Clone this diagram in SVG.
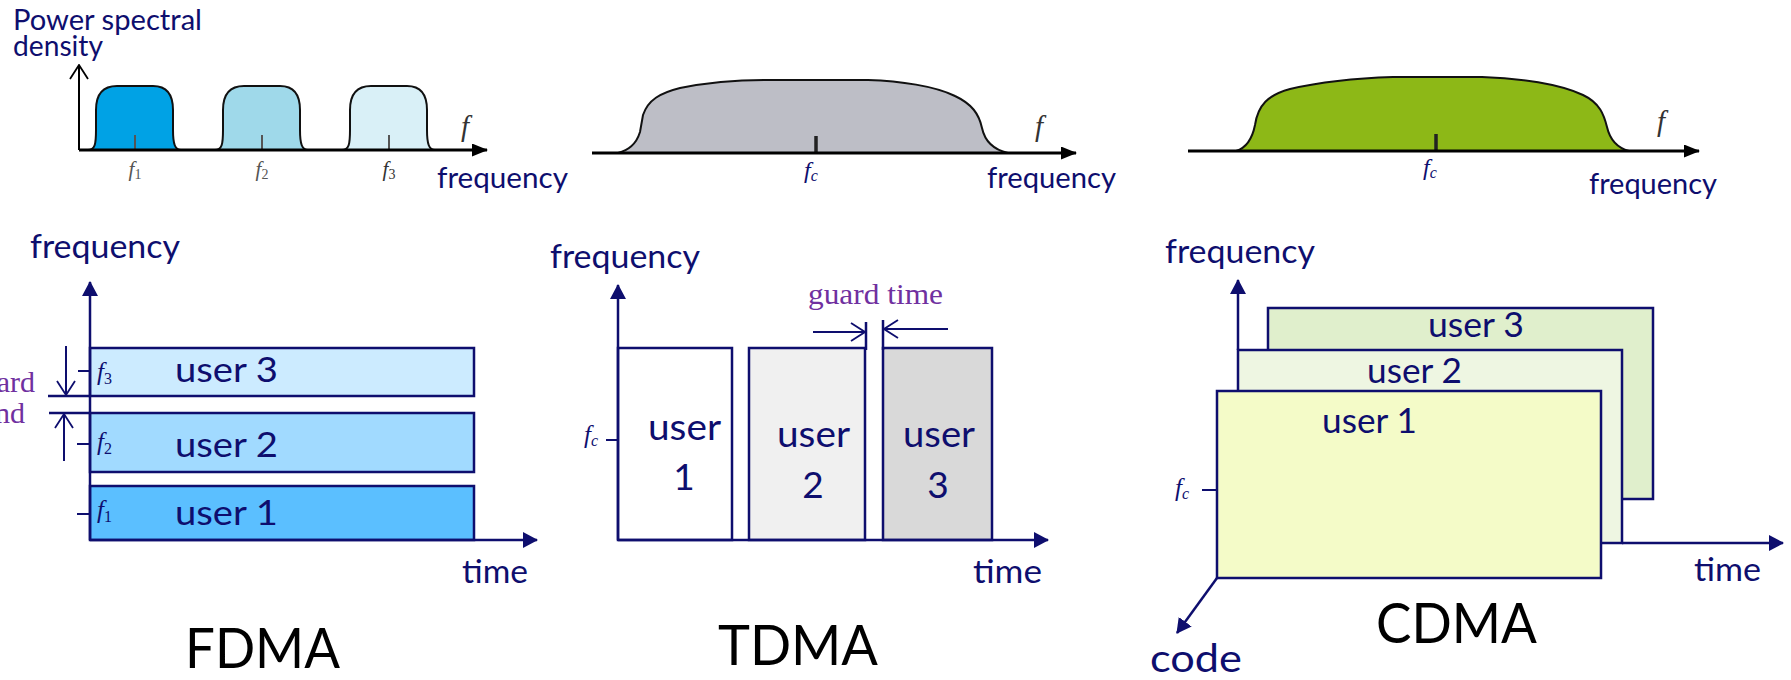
<svg xmlns="http://www.w3.org/2000/svg" width="1791" height="680" viewBox="0 0 1791 680">
<style>
.t{font-family:Lato,'Liberation Sans',sans-serif;fill:#0E0E6E}
.ttl{font-family:Lato,'Liberation Sans',sans-serif;fill:#000}
.it{font-family:'Liberation Serif','Times New Roman',serif;font-style:italic}
.pur{font-family:'Liberation Serif','Times New Roman',serif;fill:#7030A0}
.ax{stroke:#0E0E6E;stroke-width:2.5;fill:none}
.bx{stroke:#0E0E6E;stroke-width:2.5}
.kax{stroke:#000;stroke-width:3;fill:none}
.hump{stroke:#111;stroke-width:2}
.tk{stroke:#0E0E6E;stroke-width:2}
.gtk{stroke:#555;stroke-width:2}
</style>
<defs>
<marker id="ah" viewBox="0 0 15 16" refX="14" refY="8" markerWidth="15" markerHeight="16" markerUnits="userSpaceOnUse" orient="auto"><path d="M0,0 L15,8 L0,16 Z" fill="#0E0E6E"/></marker>
<marker id="kah" viewBox="0 0 16 13" refX="15" refY="6.5" markerWidth="16" markerHeight="13" markerUnits="userSpaceOnUse" orient="auto"><path d="M0,0 L16,6.5 L0,13 Z" fill="#000"/></marker>
<marker id="oah" viewBox="0 0 16 20" refX="15" refY="10" markerWidth="16" markerHeight="20" markerUnits="userSpaceOnUse" orient="auto"><path d="M1,1 L15,10 L1,19" fill="none" stroke="#0E0E6E" stroke-width="1.8"/></marker>
<marker id="okah" viewBox="0 0 16 20" refX="15" refY="10" markerWidth="16" markerHeight="20" markerUnits="userSpaceOnUse" orient="auto"><path d="M1,1 L15,10 L1,19" fill="none" stroke="#000" stroke-width="1.8"/></marker>
<path id="lobe" d="M -47,0 C -40,0 -39,-6 -39,-20 L -39,-40 C -39,-58 -30,-64 -18,-64 L 18,-64 C 30,-64 38,-58 38,-40 L 38,-20 C 38,-6 40,0 46,0 Z"/>
</defs>

<!-- TOP ROW: power spectral densities -->
<g id="fdma-psd">
  <text class="t" x="13" y="30" font-size="29" textLength="189" lengthAdjust="spacingAndGlyphs">Power spectral</text>
  <text class="t" x="13" y="56" font-size="29" textLength="90" lengthAdjust="spacingAndGlyphs">density</text>
  <use href="#lobe" x="135" y="150" fill="#00A2E5" class="hump"/>
  <use href="#lobe" x="262" y="150" fill="#9FD9EA" class="hump"/>
  <use href="#lobe" x="389" y="150" fill="#D9F0F7" class="hump"/>
  <line class="gtk" x1="135" y1="135" x2="135" y2="150"/>
  <line class="gtk" x1="262" y1="135" x2="262" y2="150"/>
  <line class="gtk" x1="389" y1="135" x2="389" y2="150"/>
  <text class="it" x="135" y="176" font-size="21" fill="#555" text-anchor="middle">f<tspan font-size="14" dy="3" font-style="normal">1</tspan></text>
  <text class="it" x="262" y="176" font-size="21" fill="#555" text-anchor="middle">f<tspan font-size="14" dy="3" font-style="normal">2</tspan></text>
  <text class="it" x="389" y="176" font-size="21" fill="#333" text-anchor="middle">f<tspan font-size="14" dy="3" font-style="normal">3</tspan></text>
  <text class="it" x="461" y="136" font-size="29" fill="#333">f</text>
  <text class="t" x="437" y="188" font-size="29" textLength="131" lengthAdjust="spacingAndGlyphs">frequency</text>
</g>

<g id="tdma-psd">
  <path class="hump" fill="#BDBEC6" d="M 618,153 C 628,150 636,145 640,132 L 643,115 C 648,100 660,93 680,88 C 710,82 740,80 765,80 L 868,80 C 900,81 935,86 955,96 C 972,104 979,114 982,128 C 985,142 995,150 1008,153 Z"/>
  <line x1="816" y1="136" x2="816" y2="153" stroke="#222" stroke-width="3.5"/>
  <text class="it" x="804" y="178" font-size="24" fill="#0E0E6E">f<tspan font-size="16" dy="3">c</tspan></text>
  <text class="it" x="1035" y="136" font-size="29" fill="#333">f</text>
  <text class="t" x="987" y="188" font-size="29" textLength="129" lengthAdjust="spacingAndGlyphs">frequency</text>
</g>

<g id="cdma-psd">
  <path class="hump" fill="#8DB817" d="M 1236,151 C 1246,148 1252,140 1255,125 C 1258,105 1268,95 1290,89 C 1320,82 1360,78 1393,77 L 1482,77 C 1520,78 1560,84 1583,95 C 1600,103 1604,115 1607,127 C 1610,140 1618,148 1629,151 Z"/>
  <line x1="1436" y1="134" x2="1436" y2="151" stroke="#222" stroke-width="3.5"/>
  <text class="it" x="1423" y="175" font-size="24" fill="#0E0E6E">f<tspan font-size="16" dy="3">c</tspan></text>
  <text class="it" x="1657" y="131" font-size="29" fill="#333">f</text>
  <text class="t" x="1589" y="194" font-size="29" textLength="128" lengthAdjust="spacingAndGlyphs">frequency</text>
</g>

<!-- FDMA -->
<g id="fdma">
  <text class="t" x="30" y="258" font-size="33" textLength="150" lengthAdjust="spacingAndGlyphs">frequency</text>
  <rect id="fdma-user3" class="bx" x="90" y="348" width="384" height="48" fill="#CCEBFF"/>
  <rect id="fdma-user2" class="bx" x="90" y="413" width="384" height="59" fill="#A1DAFF"/>
  <rect id="fdma-user1" class="bx" x="90" y="486" width="384" height="54" fill="#5BBFFF"/>
  <text class="t" x="175" y="382" font-size="35" textLength="103" lengthAdjust="spacingAndGlyphs">user 3</text>
  <text class="t" x="175" y="457" font-size="35" textLength="103" lengthAdjust="spacingAndGlyphs">user 2</text>
  <text class="t" x="175" y="525" font-size="35" textLength="103" lengthAdjust="spacingAndGlyphs">user 1</text>
  <text class="it" x="97" y="380" font-size="25" fill="#0E0E6E">f<tspan font-size="16" dy="4" font-style="normal">3</tspan></text>
  <text class="it" x="97" y="450" font-size="25" fill="#0E0E6E">f<tspan font-size="16" dy="4" font-style="normal">2</tspan></text>
  <text class="it" x="97" y="518" font-size="25" fill="#0E0E6E">f<tspan font-size="16" dy="4" font-style="normal">1</tspan></text>
  <line class="tk" x1="78" y1="371" x2="90" y2="371"/>
  <line class="tk" x1="77" y1="444" x2="90" y2="444"/>
  <line class="tk" x1="77" y1="514" x2="90" y2="514"/>
  <text class="pur" x="35" y="392" font-size="30" text-anchor="end">ard</text>
  <text class="pur" x="25" y="423" font-size="30" text-anchor="end">nd</text>
  <text class="t" x="462" y="583" font-size="33" textLength="66" lengthAdjust="spacingAndGlyphs">time</text>
  <text class="ttl" x="185" y="668" font-size="56" textLength="155" lengthAdjust="spacingAndGlyphs">FDMA</text>
</g>

<!-- TDMA -->
<g id="tdma">
  <text class="t" x="550" y="268" font-size="33" textLength="150" lengthAdjust="spacingAndGlyphs">frequency</text>
  <rect id="tdma-user1" class="bx" x="618" y="348" width="114" height="192" fill="#FFFFFF"/>
  <rect id="tdma-user2" class="bx" x="749" y="348" width="116" height="192" fill="#F0F0F0"/>
  <rect id="tdma-user3" class="bx" x="883" y="348" width="109" height="192" fill="#D9D9D9"/>
  <text class="t" x="648" y="440" font-size="37" textLength="73" lengthAdjust="spacingAndGlyphs">user</text>
  <text class="t" x="684" y="490" font-size="37" text-anchor="middle">1</text>
  <text class="t" x="777" y="447" font-size="37" textLength="73" lengthAdjust="spacingAndGlyphs">user</text>
  <text class="t" x="813" y="498" font-size="37" text-anchor="middle">2</text>
  <text class="t" x="903" y="447" font-size="37" textLength="72" lengthAdjust="spacingAndGlyphs">user</text>
  <text class="t" x="938" y="498" font-size="37" text-anchor="middle">3</text>
  <text class="it" x="584" y="443" font-size="25" fill="#0E0E6E">f<tspan font-size="16" dy="3">c</tspan></text>
  <line class="tk" x1="606" y1="440" x2="618" y2="440"/>
  <text class="pur" x="808" y="304" font-size="30" textLength="135" lengthAdjust="spacingAndGlyphs">guard time</text>
  <text class="t" x="973" y="583" font-size="33" textLength="69" lengthAdjust="spacingAndGlyphs">time</text>
  <text class="ttl" x="718" y="665" font-size="56" textLength="160" lengthAdjust="spacingAndGlyphs">TDMA</text>
</g>

<!-- CDMA -->
<g id="cdma">
  <text class="t" x="1165" y="263" font-size="33" textLength="150" lengthAdjust="spacingAndGlyphs">frequency</text>
  <rect id="cdma-user3" class="bx" x="1268" y="308" width="385" height="191" fill="#E0EFCC"/>
  <rect id="cdma-user2" class="bx" x="1238" y="350" width="384" height="193" fill="#EEF6E2"/>
  <rect id="cdma-user1" class="bx" x="1217" y="391" width="384" height="187" fill="#F4FBC8"/>
  <text class="t" x="1428" y="337" font-size="35" textLength="96" lengthAdjust="spacingAndGlyphs">user 3</text>
  <text class="t" x="1367" y="383" font-size="35" textLength="95" lengthAdjust="spacingAndGlyphs">user 2</text>
  <text class="t" x="1322" y="433" font-size="35" textLength="95" lengthAdjust="spacingAndGlyphs">user 1</text>
  <text class="it" x="1175" y="496" font-size="25" fill="#0E0E6E">f<tspan font-size="16" dy="3">c</tspan></text>
  <line class="tk" x1="1202" y1="490" x2="1217" y2="490"/>
  <text class="t" x="1694" y="581" font-size="33" textLength="67" lengthAdjust="spacingAndGlyphs">time</text>
  <text class="t" x="1150" y="672" font-size="38" textLength="92" lengthAdjust="spacingAndGlyphs">code</text>
  <text class="ttl" x="1376" y="643" font-size="56" textLength="161" lengthAdjust="spacingAndGlyphs">CDMA</text>
</g>

<!-- connectors: axes and arrows -->
<g id="connectors">
  <line class="kax" x1="79" y1="150" x2="487" y2="150" marker-end="url(#kah)"/>
  <line x1="79" y1="150" x2="79" y2="65" stroke="#000" stroke-width="2" marker-end="url(#okah)"/>
  <line class="kax" x1="592" y1="153" x2="1076" y2="153" marker-end="url(#kah)"/>
  <line class="kax" x1="1188" y1="151" x2="1699" y2="151" marker-end="url(#kah)"/>

  <line class="ax" x1="90" y1="540" x2="90" y2="282" marker-end="url(#ah)"/>
  <line class="ax" x1="90" y1="540" x2="537" y2="540" marker-end="url(#ah)"/>
  <line class="ax" x1="48" y1="396" x2="90" y2="396"/>
  <line class="ax" x1="49" y1="413" x2="90" y2="413"/>
  <line x1="66" y1="346" x2="66" y2="395" stroke="#0E0E6E" stroke-width="2" marker-end="url(#oah)"/>
  <line x1="64" y1="461" x2="64" y2="414" stroke="#0E0E6E" stroke-width="2" marker-end="url(#oah)"/>

  <line class="ax" x1="618" y1="540" x2="618" y2="285" marker-end="url(#ah)"/>
  <line class="ax" x1="618" y1="540" x2="1048" y2="540" marker-end="url(#ah)"/>
  <line class="ax" x1="866" y1="322" x2="866" y2="350"/>
  <line class="ax" x1="883" y1="320" x2="883" y2="350"/>
  <line x1="813" y1="332" x2="865" y2="332" stroke="#0E0E6E" stroke-width="2" marker-end="url(#oah)"/>
  <line x1="948" y1="329" x2="884" y2="329" stroke="#0E0E6E" stroke-width="2" marker-end="url(#oah)"/>

  <line class="ax" x1="1238" y1="350" x2="1238" y2="280" marker-end="url(#ah)"/>
  <line class="ax" x1="1622" y1="543" x2="1783" y2="543" marker-end="url(#ah)"/>
  <line class="ax" x1="1217" y1="578" x2="1177" y2="633" marker-end="url(#ah)"/>
</g>
</svg>
